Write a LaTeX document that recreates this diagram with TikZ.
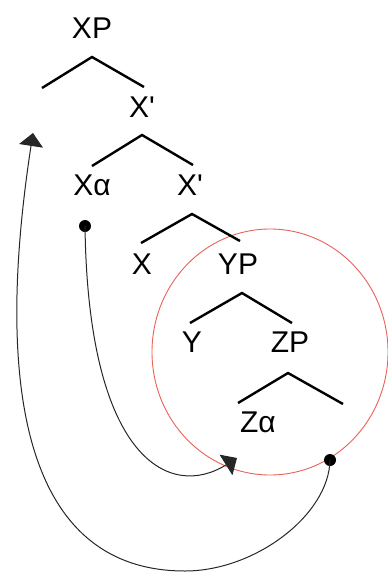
\documentclass[tikz,border=0pt]{standalone}
\usepackage{fontspec}
\setmainfont{Liberation Sans}
\usetikzlibrary{arrows.meta,shapes.geometric}

\begin{document}
\begin{tikzpicture}[x=1pt,y=-1pt,>=Latex,
  lbl/.style={font=\fontsize{30}{32}\selectfont,inner sep=0pt},
  branch/.style={line width=2.4pt},
  dotnode/.style={circle,fill=black,inner sep=0pt,minimum size=12pt},
  link/.style={line width=1pt,draw=black!85,-{Triangle[length=13pt,width=24pt]}}]
\useasboundingbox (0,0) rectangle (388,573);
\node[ellipse,draw={rgb,255:red,232;green,98;blue,88},line width=0.9pt,minimum width=236pt,minimum height=246pt,inner sep=0pt] (domain) at (270,352) {};
\node[lbl] (xp) at (92,28) {XP};
\node[lbl] (xbarA) at (142,107) {X\textquotesingle};
\node[lbl] (xalpha) at (92,185) {Xα};
\node[lbl] (xbarB) at (190,185) {X\textquotesingle};
\node[lbl] (xhead) at (142,264) {X};
\node[lbl] (yp) at (238,264) {YP};
\node[lbl] (yhead) at (192,342) {Y};
\node[lbl] (zp) at (290,342) {ZP};
\node[lbl] (zalpha) at (258,422) {Zα};
\coordinate (bxpT) at (92,57);
\coordinate (bxpL) at (42,88);
\coordinate (bxpR) at (144,87);
\coordinate (bxaT) at (142,135);
\coordinate (bxaL) at (92,166);
\coordinate (bxaR) at (193,165);
\coordinate (bxbT) at (192,214);
\coordinate (bxbL) at (141,243);
\coordinate (bxbR) at (240,241);
\coordinate (bypT) at (242,293);
\coordinate (bypL) at (190,323);
\coordinate (bypR) at (292,323);
\coordinate (bzpT) at (288,373);
\coordinate (bzpL) at (238,403);
\coordinate (bzpR) at (343,404);
\draw[branch] (bxpL)--(bxpT)--(bxpR);
\draw[branch] (bxaL)--(bxaT)--(bxaR);
\draw[branch] (bxbL)--(bxbT)--(bxbR);
\draw[branch] (bypL)--(bypT)--(bypR);
\draw[branch] (bzpL)--(bzpT)--(bzpR);
\node[dotnode] (dotA) at (85,226) {};
\node[dotnode] (dotB) at (330,460) {};
\coordinate (tipA) at (237,458);
\coordinate (tipB) at (33,133);
\coordinate (botB) at (185,571);
\draw[link] (dotA.center) .. controls (88,460) and (170,500) .. (tipA);
\draw[link] (dotB.center) .. controls (329,515) and (255,571) .. (botB) .. controls (30,571) and (-8,400) .. (tipB);
\end{tikzpicture}
\end{document}
